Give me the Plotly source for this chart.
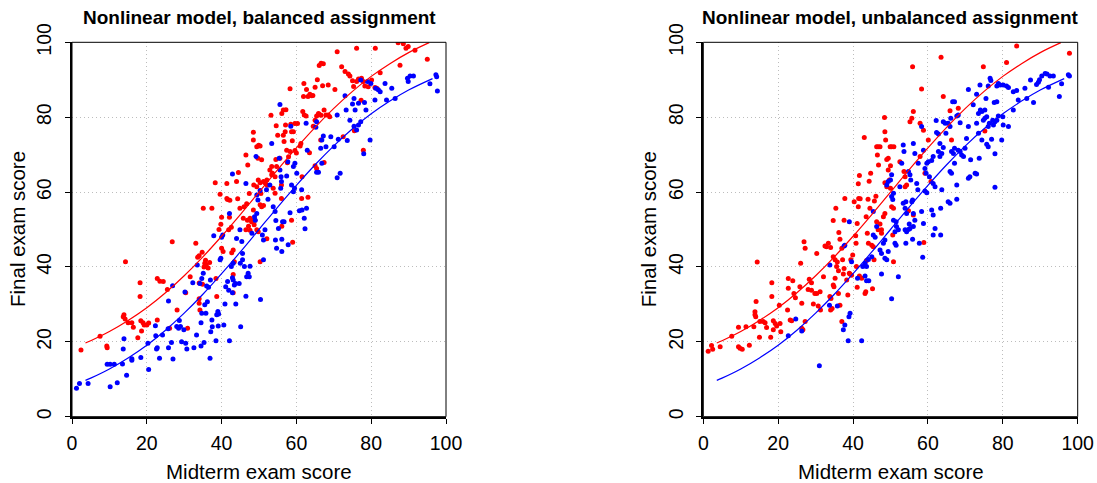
import plotly.graph_objects as go

# ---------------- data ----------------
# fitted model curves (same in both panels)
curve_red_x = [3.6, 5, 10, 15, 20, 25, 30, 35, 40, 45, 50, 55, 60, 65, 70, 75, 80, 85, 90, 95.5]
curve_red_y = [19.7, 20.3, 22.75, 25.7, 29.1, 33.1, 37.65, 42.7, 48.2, 54.0, 60.0, 66.0, 71.8, 77.3, 82.35, 86.9, 90.9, 94.3, 97.25, 99.9]
curve_blue_x = [3.6, 5, 10, 15, 20, 25, 30, 35, 40, 45, 50, 55, 60, 65, 70, 75, 80, 85, 90, 96.4]
curve_blue_y = [9.7, 10.3, 12.75, 15.7, 19.1, 23.1, 27.65, 32.7, 38.2, 44.0, 50.0, 56.0, 61.8, 67.3, 72.35, 76.9, 80.9, 84.3, 87.25, 90.3]

balanced_red = [(2.4,17.8),(7.5,21.5),(9.3,18.9),(9.4,18.4),(13.9,27.2),(13.7,26.7),(14.2,26.1),(14.3,41.4),(15.0,25.1),(16.0,25.1),(16.4,23.9),(17.6,21.1),(18.2,35.8),(18.2,32.1),(18.4,25.6),(19.0,25.1),(19.3,24.5),(18.6,22.9),(20.0,24.5),(20.5,25.0),(22.8,36.9),(23.5,36.2),(24.4,36.1),(22.8,25.8),(26.1,23.6),(26.8,46.7),(25.5,34.0),(28.1,28.5),(30.9,23.6),(30.4,33.1),(31.6,37.4),(33.1,46.3),(33.6,42.6),(34.0,43.0),(34.0,35.7),(34.0,31.5),(34.0,30.3),(34.2,28.5),(34.8,43.9),(34.9,35.4),(35.1,55.7),(35.5,41.0),(35.9,40.5),(36.4,39.7),(35.7,41.8),(36.8,41.2),(35.3,40.0),(37.4,55.7),(38.3,62.5),(38.7,32.1),(38.5,36.9),(39.6,59.4),(39.8,51.4),(39.3,50.0),(40.0,45.0),(40.4,44.1),(40.0,53.3),(41.4,62.3),(41.4,58.3),(41.6,58.0),(42.2,57.8),(42.1,53.3),(41.9,49.9),(42.6,50.6),(42.7,43.8),(43.1,44.5),(43.4,41.4),(43.1,38.0),(43.1,33.1),(44.0,62.8),(44.3,58.2),(44.5,65.2),(44.9,55.7),(45.8,53.0),(46.0,56.1),(46.7,56.9),(46.5,69.9),(47.0,67.2),(47.4,59.6),(47.6,49.8),(47.6,53.0),(48.0,52.1),(46.9,52.5),(47.2,50.9),(46.5,49.9),(48.5,76.0),(48.5,73.9),(49.4,72.1),(49.9,72.5),(50.3,72.3),(50.7,68.6),(49.7,69.0),(48.6,61.9),(49.4,61.4),(49.8,63.2),(50.3,62.5),(48.5,55.2),(48.9,52.5),(49.4,49.9),(49.8,49.4),(48.2,52.4),(48.7,51.3),(50.3,56.6),(50.7,56.1),(51.2,56.4),(50.5,59.6),(50.3,41.4),(51.2,62.8),(52.1,63.2),(51.6,62.5),(52.2,61.8),(52.9,65.9),(53.4,64.6),(53.8,61.0),(54.3,59.7),(52.1,47.5),(53.2,80.5),(53.4,66.8),(53.6,65.0),(54.3,64.1),(54.7,66.8),(55.6,69.0),(54.5,68.7),(54.6,77.7),(55.0,75.2),(56.0,61.9),(56.0,58.3),(56.1,50.9),(56.1,81.0),(56.5,81.9),(57.2,82.0),(57.1,77.9),(57.0,76.1),(56.5,75.2),(56.7,73.5),(57.4,71.2),(58.3,70.8),(57.9,69.4),(57.6,67.8),(58.3,87.6),(58.7,76.1),(59.2,76.1),(58.5,78.1),(59.6,78.3),(60.3,78.3),(58.9,73.7),(59.6,71.1),(60.0,70.4),(58.7,52.5),(59.0,46.6),(61.5,64.1),(61.4,58.3),(61.2,73.0),(61.0,72.3),(61.7,81.5),(62.1,80.6),(62.6,80.3),(61.9,85.5),(62.0,89.0),(62.7,87.4),(63.1,85.5),(63.6,86.1),(64.1,85.7),(64.4,85.8),(63.1,58.6),(63.5,70.5),(64.5,77.6),(65.0,79.2),(65.4,80.3),(65.9,81.0),(66.1,80.8),(66.6,80.5),(65.0,88.0),(65.0,67.0),(65.4,66.3),(65.6,90.0),(66.1,93.8),(66.6,94.4),(67.2,94.3),(66.5,73.9),(67.4,67.9),(67.4,81.9),(67.9,80.6),(68.5,80.6),(68.9,80.1),(67.0,88.4),(68.5,88.6),(70.9,97.5),(70.3,87.4),(72.5,74.8),(72.1,93.5),(73.0,92.2),(73.9,91.5),(74.3,91.0),(75.0,89.7),(75.3,88.2),(76.1,89.5),(76.6,90.2),(77.4,90.4),(77.9,89.5),(75.5,76.4),(76.1,98.4),(77.3,84.5),(77.9,71.2),(78.3,88.3),(79.2,88.1),(80.1,89.9),(81.0,87.9),(81.1,98.4),(82.4,91.9),(81.5,87.7),(87.2,99.9),(88.6,99.6),(89.3,98.4),(89.9,98.9),(87.7,93.9),(91.7,97.9),(95.0,95.5)]

balanced_blue = [(1.2,7.6),(2.0,8.9),(4.3,8.9),(9.4,14.0),(10.2,14.0),(10.2,8.0),(12.1,9.1),(11.3,14.0),(13.5,14.1),(13.7,18.1),(13.9,20.8),(14.6,11.1),(16.0,15.1),(16.0,15.5),(18.4,15.8),(20.5,12.6),(20.3,19.6),(22.3,24.3),(22.4,21.6),(22.6,18.1),(22.8,18.4),(23.4,15.6),(24.2,21.8),(25.7,23.5),(25.8,18.4),(25.8,30.9),(26.6,19.8),(27.0,15.4),(26.9,35.0),(28.0,24.1),(28.5,23.6),(29.0,24.1),(28.7,25.7),(29.3,20.0),(30.4,19.6),(30.7,18.1),(29.9,23.2),(30.2,33.3),(32.3,35.8),(32.6,18.4),(33.5,40.5),(33.3,21.8),(34.5,25.1),(34.7,27.6),(34.2,35.6),(34.7,36.9),(35.1,38.3),(34.5,18.9),(35.3,19.8),(35.5,29.9),(35.8,27.6),(36.2,30.7),(36.0,34.9),(36.5,34.6),(37.0,36.5),(36.9,15.6),(37.1,22.7),(37.5,24.0),(37.4,25.8),(37.9,48.3),(38.5,20.3),(38.7,27.2),(39.0,28.1),(39.2,27.4),(39.1,24.2),(39.6,41.9),(39.8,42.3),(40.0,47.9),(40.3,48.5),(40.6,24.5),(40.9,30.1),(41.1,34.7),(41.9,33.8),(41.6,36.1),(42.1,20.3),(42.1,54.3),(42.6,40.1),(43.1,41.0),(42.9,37.1),(43.1,36.5),(43.4,35.2),(43.7,35.6),(42.9,64.8),(42.9,33.1),(43.8,30.1),(44.0,47.6),(44.7,35.6),(44.9,49.9),(45.4,46.8),(45.6,41.9),(45.6,43.6),(45.0,41.0),(46.1,40.1),(45.1,24.0),(46.5,32.2),(46.5,62.3),(46.7,37.4),(47.1,38.3),(47.4,37.4),(47.6,40.2),(48.1,49.0),(48.8,53.4),(49.0,52.5),(49.4,54.3),(49.2,69.5),(49.4,59.2),(49.7,57.9),(50.3,60.4),(50.4,31.3),(51.2,41.9),(51.2,47.2),(50.9,48.5),(51.6,49.9),(52.0,60.6),(52.4,58.1),(52.9,61.9),(53.4,73.0),(53.8,56.1),(54.3,54.8),(54.5,52.4),(54.4,47.2),(54.7,45.0),(55.2,50.3),(55.4,69.0),(55.6,65.9),(55.9,64.1),(55.6,83.4),(55.8,61.0),(56.0,62.8),(56.1,44.1),(56.1,47.4),(56.3,52.1),(56.7,52.1),(57.8,45.9),(57.7,68.1),(57.4,64.3),(58.3,54.5),(58.5,77.6),(58.7,61.9),(59.2,60.1),(59.5,61.0),(59.2,66.8),(59.6,67.7),(60.1,65.0),(60.8,55.0),(61.5,55.2),(61.4,60.6),(62.1,53.0),(62.3,50.2),(62.7,55.7),(62.6,78.4),(62.9,71.2),(65.2,77.3),(65.4,78.8),(65.4,65.3),(65.9,65.3),(66.5,71.7),(66.8,73.9),(67.2,75.0),(66.8,67.7),(67.9,72.1),(69.2,74.8),(70.1,72.1),(70.9,63.8),(71.7,65.0),(70.9,80.6),(71.2,74.1),(73.0,85.7),(73.6,73.8),(73.3,81.9),(74.3,79.2),(75.0,83.5),(75.4,85.0),(75.7,81.9),(75.4,77.6),(76.1,76.6),(76.6,77.9),(76.6,83.7),(77.2,78.8),(77.2,89.9),(78.0,70.2),(78.2,83.9),(78.6,81.9),(79.0,89.5),(79.9,89.0),(79.7,73.9),(81.0,84.6),(81.2,87.7),(81.9,87.3),(82.4,86.8),(83.7,89.0),(84.1,84.6),(85.5,87.7),(86.4,85.0),(89.7,90.4),(89.9,89.5),(90.4,91.0),(91.3,91.0),(95.7,88.9),(97.3,91.3),(97.5,90.8),(97.7,87.0)]

unbalanced_red = [(1.3,17.5),(2.5,18.0),(2.2,19.0),(4.5,18.7),(7.6,21.5),(9.4,23.9),(9.4,18.7),(9.8,18.3),(10.4,18.0),(11.4,24.0),(12.3,19.1),(13.5,24.0),(13.8,27.2),(13.8,28.0),(14.0,26.7),(14.1,30.8),(14.4,41.3),(15.0,21.2),(15.1,25.4),(16.0,25.4),(16.5,25.1),(16.9,23.8),(18.0,21.2),(18.3,35.8),(18.3,32.1),(18.7,25.6),(19.2,24.9),(19.6,24.2),(18.7,23.2),(20.3,29.8),(20.5,24.9),(20.7,22.7),(22.5,28.5),(22.7,34.3),(22.7,36.9),(23.2,25.8),(23.6,25.6),(23.9,36.3),(24.2,32.9),(24.6,31.8),(25.8,34.7),(26.0,41.0),(26.3,30.3),(26.3,23.6),(26.6,23.2),(26.9,46.7),(27.2,45.0),(27.2,25.4),(28.0,34.0),(28.3,36.7),(28.9,33.8),(28.9,35.8),(29.4,30.1),(29.8,32.9),(30.3,32.9),(30.3,43.6),(30.7,29.6),(31.2,33.4),(31.3,28.5),(32.1,37.4),(32.5,45.6),(32.9,45.4),(33.4,46.3),(34.0,45.2),(33.8,32.1),(34.1,31.6),(34.4,28.9),(34.0,28.5),(34.7,52.4),(34.7,42.7),(35.2,41.9),(34.7,35.2),(34.9,34.7),(35.2,37.0),(35.4,55.7),(35.6,40.1),(36.1,39.0),(35.8,41.3),(36.2,49.2),(36.5,47.4),(36.1,32.9),(36.5,29.8),(37.0,45.0),(37.2,41.9),(37.6,39.6),(37.4,38.1),(37.0,25.4),(37.6,52.5),(37.8,58.3),(38.3,36.5),(38.6,32.5),(39.2,38.1),(39.0,38.3),(39.6,37.8),(39.4,41.9),(39.9,43.2),(40.3,57.4),(40.7,48.3),(40.8,46.3),(41.1,51.6),(41.4,56.1),(41.4,62.2),(41.5,58.3),(41.9,58.2),(40.9,40.1),(41.1,34.6),(41.7,37.6),(42.3,37.0),(41.7,64.4),(43.0,74.6),(43.2,32.9),(43.4,33.4),(43.5,53.4),(43.8,49.0),(44.1,46.3),(43.6,41.7),(44.0,58.1),(44.3,62.9),(44.7,65.0),(44.5,55.7),(45.0,45.8),(45.4,45.4),(45.6,41.9),(45.2,34.2),(45.7,57.6),(46.1,58.9),(46.3,72.1),(46.7,72.1),(47.2,72.1),(46.5,69.9),(46.8,67.2),(46.3,52.1),(46.7,49.9),(47.2,51.5),(47.6,49.9),(47.6,49.0),(48.1,53.4),(48.4,79.9),(48.5,76.1),(48.7,73.9),(48.5,62.5),(49.0,61.4),(48.5,54.3),(49.0,68.7),(49.4,69.0),(49.9,72.1),(50.0,67.0),(50.3,72.1),(50.9,72.1),(49.4,65.9),(49.7,63.2),(50.0,61.0),(50.3,56.1),(50.8,55.7),(50.8,41.4),(50.6,48.5),(52.5,68.1),(53.6,65.5),(53.9,64.1),(53.9,61.4),(54.3,61.9),(54.8,55.0),(55.2,78.8),(55.7,79.7),(56.1,81.5),(55.9,93.5),(56.1,53.9),(58.3,87.5),(57.9,78.4),(57.9,69.5),(58.8,76.5),(58.9,46.5),(59.2,65.0),(60.1,73.9),(60.8,62.8),(63.5,96.0),(64.1,85.5),(65.9,81.7),(66.3,73.9),(68.1,82.4),(74.8,93.5),(75.2,76.3),(81.0,94.6),(83.7,99.0),(97.8,97.1)]

unbalanced_blue = [(22.7,21.6),(24.7,26.1),(26.3,22.9),(31.0,13.6),(33.8,40.5),(33.7,29.8),(35.8,29.6),(37.4,23.2),(37.8,24.5),(37.6,45.6),(37.8,45.8),(38.7,20.3),(38.9,26.7),(39.2,27.6),(39.0,52.1),(39.6,41.4),(42.3,20.3),(41.2,37.0),(42.6,40.1),(43.2,41.0),(43.6,40.1),(43.2,37.6),(43.6,36.3),(44.2,36.3),(44.1,42.0),(45.0,42.7),(45.4,48.5),(45.9,47.9),(46.3,50.8),(45.4,54.8),(47.2,44.5),(47.6,43.6),(48.1,46.3),(48.5,47.2),(47.6,38.1),(48.5,42.3),(49.0,41.9),(49.4,44.1),(49.0,61.9),(49.4,62.8),(50.0,63.2),(50.3,64.6),(50.3,31.5),(50.3,58.8),(50.8,59.7),(50.6,58.0),(50.8,52.5),(51.5,52.1),(51.2,49.4),(51.6,50.8),(52.1,49.9),(51.2,46.3),(51.5,45.8),(52.1,37.4),(52.5,61.4),(53.0,67.7),(53.4,72.6),(53.6,70.8),(53.4,57.0),(53.9,55.7),(54.3,54.3),(54.1,57.4),(53.9,49.9),(54.3,49.4),(54.8,50.0),(55.2,50.3),(55.0,51.5),(54.8,65.5),(55.2,64.6),(55.4,63.2),(54.1,46.3),(55.7,57.4),(55.9,57.9),(56.1,54.3),(56.5,52.5),(56.1,50.8),(56.1,73.0),(56.5,70.3),(55.9,47.4),(57.0,62.3),(57.3,60.6),(57.7,46.3),(57.4,67.7),(58.3,77.5),(58.3,54.8),(58.8,51.6),(58.8,71.2),(58.6,42.6),(59.2,66.3),(59.5,65.0),(59.7,67.7),(60.1,68.1),(60.4,64.1),(59.2,60.3),(59.7,59.8),(61.0,68.4),(61.4,69.5),(61.4,62.3),(61.9,61.4),(61.0,55.2),(61.4,53.9),(61.4,48.5),(61.9,50.3),(62.2,79.1),(62.3,75.9),(62.8,75.5),(63.2,73.0),(62.8,70.8),(63.2,69.5),(63.7,70.3),(64.1,71.9),(63.7,60.6),(63.4,55.7),(63.4,48.5),(64.1,78.8),(64.6,78.4),(64.8,75.7),(65.4,78.4),(65.9,77.5),(66.1,79.7),(65.9,57.0),(65.4,57.4),(66.3,65.0),(65.9,65.5),(66.3,70.8),(66.8,70.3),(67.1,71.7),(66.6,84.1),(67.1,84.1),(67.1,67.7),(67.7,80.3),(68.1,80.6),(67.7,58.1),(67.7,61.9),(68.1,71.2),(68.6,70.8),(69.0,69.9),(69.5,69.5),(68.6,78.5),(69.9,71.7),(70.3,74.3),(70.8,77.5),(70.8,63.7),(71.2,64.1),(70.8,87.4),(71.4,68.6),(72.1,83.3),(72.6,65.0),(73.0,64.8),(73.0,78.4),(73.5,81.0),(74.0,81.9),(74.4,81.5),(73.0,86.1),(73.5,75.7),(73.7,69.0),(73.9,88.6),(74.4,73.9),(74.8,79.2),(75.2,79.7),(75.7,80.1),(75.2,81.9),(75.5,85.0),(75.7,72.8),(76.1,72.1),(76.1,77.5),(76.4,78.4),(76.1,88.3),(76.6,90.4),(76.8,89.8),(77.0,74.1),(77.3,79.2),(77.5,77.9),(77.9,78.8),(78.4,79.2),(78.8,80.3),(77.7,83.9),(78.4,84.1),(77.9,70.2),(77.9,61.3),(78.4,88.3),(78.8,89.0),(79.3,88.6),(80.1,88.6),(81.0,88.3),(81.5,87.9),(79.7,73.9),(80.1,77.9),(80.0,80.1),(81.5,77.5),(82.8,81.9),(82.8,86.8),(83.7,87.1),(84.1,84.6),(85.9,87.7),(86.4,85.0),(87.4,89.9),(88.2,83.9),(89.0,88.7),(89.5,89.3),(89.8,90.0),(90.4,91.0),(91.3,91.7),(91.8,91.5),(92.2,88.0),(92.6,91.0),(93.5,91.0),(95.1,85.5),(95.7,88.9),(97.5,91.3),(97.8,91.0)]

titles = ["Nonlinear model, balanced assignment", "Nonlinear model, unbalanced assignment"]
x_title = "Midterm exam score"
y_title = "Final exam score"
tick_vals = [0, 20, 40, 60, 80, 100]

RED = "#FF0000"
BLUE = "#0000FF"
FONT = "Liberation Sans, Arial, sans-serif"

W, H = 1097, 483
# panel pixel boxes in page coordinates (left, right, top, bottom)
panels = [(72, 446, 42.3, 416.7), (703.3, 1077.7, 42.3, 416.7)]


def px(xp):
    return xp / W


def py(yp):
    return (H - yp) / H


fig = go.Figure()
datasets = [(balanced_red, balanced_blue), (unbalanced_red, unbalanced_blue)]

for i, ((red_pts, blue_pts), (l, r, t, b)) in enumerate(zip(datasets, panels)):
    xa = "x" if i == 0 else "x2"
    ya = "y" if i == 0 else "y2"
    for pts, col in ((red_pts, RED), (blue_pts, BLUE)):
        fig.add_trace(go.Scatter(
            x=[p[0] for p in pts], y=[p[1] for p in pts], mode="markers",
            marker=dict(color=col, size=5, line=dict(width=0)),
            xaxis=xa, yaxis=ya, showlegend=False, cliponaxis=True))
    fig.add_trace(go.Scatter(x=curve_red_x, y=curve_red_y, mode="lines",
                             line=dict(color=RED, width=1.2, shape="spline"),
                             xaxis=xa, yaxis=ya, showlegend=False))
    fig.add_trace(go.Scatter(x=curve_blue_x, y=curve_blue_y, mode="lines",
                             line=dict(color=BLUE, width=1.2, shape="spline"),
                             xaxis=xa, yaxis=ya, showlegend=False))

    xdom = [px(l), px(r)]
    ydom = [py(b), py(t)]
    axis_common = dict(range=[0, 100], tickvals=tick_vals, ticks="outside", ticklen=5,
                       tickwidth=1, tickcolor="black", showline=True, linecolor="black",
                       linewidth=2, mirror=False, showgrid=True, gridcolor="#bdbdbd",
                       griddash="1px,3px", gridwidth=1, zeroline=False, automargin=False,
                       tickfont=dict(family=FONT, size=19.5, color="black"), fixedrange=True)
    key = "" if i == 0 else "2"
    fig.update_layout(**{
        "xaxis" + key: dict(axis_common, domain=xdom, anchor="y" + key, ticklabelstandoff=3),
        "yaxis" + key: dict(axis_common, domain=ydom, anchor="x" + key, tickangle=-90,
                           ticklabelstandoff=6),
    })
    # thin box around the plot
    fig.add_shape(type="rect", xref="paper", yref="paper",
                  x0=xdom[0], x1=xdom[1], y0=ydom[0], y1=ydom[1],
                  line=dict(color="black", width=1), layer="above")
    cx = (l + r) / 2
    fig.add_annotation(text="<b>" + titles[i] + "</b>", xref="paper", yref="paper",
                       x=px(cx), y=py(17.5), showarrow=False, xanchor="center",
                       yanchor="middle", font=dict(family=FONT, size=19, color="black"))
    fig.add_annotation(text=x_title, xref="paper", yref="paper",
                       x=px(cx), y=py(471.5), showarrow=False, xanchor="center",
                       yanchor="middle", font=dict(family=FONT, size=20.5, color="black"))
    fig.add_annotation(text=y_title, xref="paper", yref="paper",
                       x=px(l - 54.5), y=py((t + b) / 2), showarrow=False,
                       xanchor="center", yanchor="middle", textangle=-90,
                       font=dict(family=FONT, size=20.5, color="black"))

fig.update_layout(width=W, height=H, margin=dict(l=0, r=0, t=0, b=0),
                  paper_bgcolor="white", plot_bgcolor="white", hovermode=False)
# the page's default 8px body margin would push the fixed-size figure off the window
fig.write_html("out.html",
               config={"displayModeBar": False},
               post_script="document.body.style.margin='0';"
                           "document.documentElement.style.overflow='hidden';")
